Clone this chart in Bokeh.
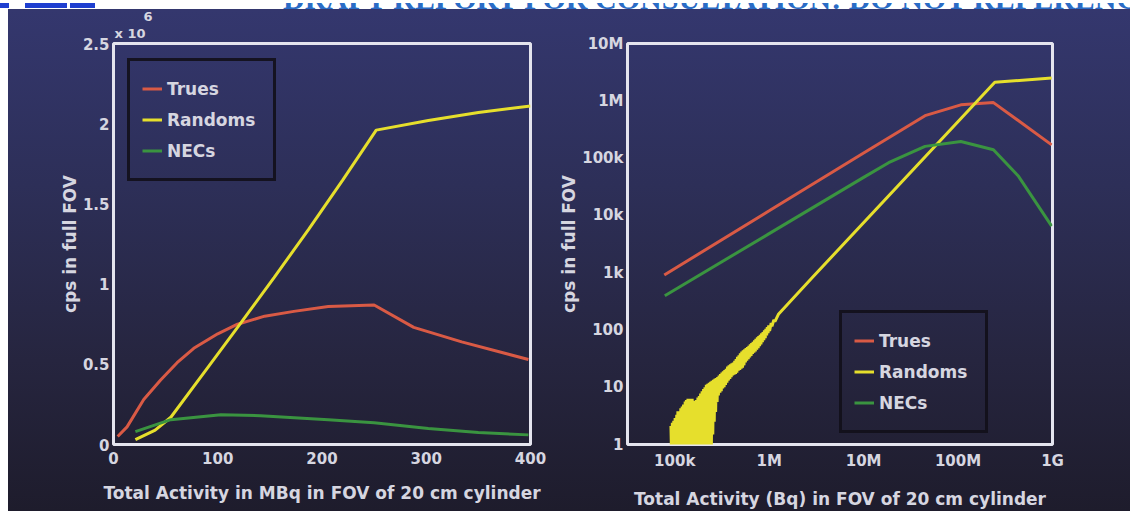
from bokeh.plotting import figure
from bokeh.models import Range1d, FixedTicker, Title, Div
from bokeh.layouts import row, column
from bokeh.embed import file_html
from bokeh.resources import INLINE

# ---------------- data ----------------
series_names = ["Trues", "Randoms", "NECs"]
header_text = "DRAFT REPORT FOR CONSULTATION: DO NOT REFERENCE"

# Left panel: Total activity (MBq) vs count rate (x 10^6 cps)
trues_lin_x = [4, 13, 29, 45, 61, 77, 100, 119, 145, 173, 206, 250, 288, 334, 398]
trues_lin_y = [0.05, 0.11, 0.28, 0.40, 0.51, 0.60, 0.69, 0.75, 0.80, 0.83, 0.86, 0.87, 0.73, 0.64, 0.53]
randoms_lin_x = [21, 40, 55, 87, 119, 154, 187, 220, 252, 302, 350, 400]
randoms_lin_y = [0.03, 0.09, 0.17, 0.45, 0.73, 1.04, 1.34, 1.65, 1.96, 2.02, 2.07, 2.11]
necs_lin_x = [21, 55, 103, 141, 206, 250, 302, 350, 398]
necs_lin_y = [0.08, 0.155, 0.185, 0.18, 0.155, 0.135, 0.10, 0.075, 0.06]

left_x_ticks = [0, 100, 200, 300, 400]
left_y_ticks = [0, 0.5, 1, 1.5, 2, 2.5]
left_y_labels = ["0", "0.5", "1", "1.5", "2", "2.5"]

# Right panel: Total activity (Bq) vs count rate (cps), log-log
trues_log_x = [7.75e4, 1e6, 1e7, 4.47e7, 1.07e8, 2.37e8, 9.8e8]
trues_log_y = [910, 1.2e4, 1.23e5, 5.5e5, 8.5e5, 9.3e5, 1.7e5]
necs_log_x = [7.85e4, 1e6, 1e7, 1.84e7, 4.47e7, 1.07e8, 2.37e8, 4.37e8, 9.8e8]
necs_log_y = [395, 4.8e3, 4.6e4, 8.3e4, 1.6e5, 1.95e5, 1.4e5, 4.8e4, 6.5e3]
# Randoms: noisy (low count) part read as alternating upper / lower edge, then smooth part
randoms_log_x = [
    91200, 92900, 94400, 96200, 97700, 99500, 101000, 103000, 105000, 107000,
    108000, 110000, 112000, 114000, 116000, 118000, 120000, 122000, 124000, 127000,
    129000, 131000, 133000, 136000, 138000, 141000, 143000, 146000, 148000, 151000,
    153000, 156000, 158000, 161000, 164000, 167000, 170000, 173000, 176000, 179000,
    182000, 185000, 188000, 192000, 195000, 199000, 202000, 206000, 209000, 213000,
    216000, 220000, 224000, 228000, 232000, 236000, 240000, 244000, 248000, 253000,
    257000, 262000, 266000, 271000, 275000, 281000, 285000, 290000, 295000, 301000,
    305000, 311000, 316000, 322000, 327000, 333000, 339000, 345000, 351000, 357000,
    363000, 370000, 376000, 383000, 389000, 396000, 403000, 410000, 417000, 425000,
    432000, 440000, 447000, 455000, 462000, 471000, 479000, 488000, 495000, 505000,
    513000, 522000, 531000, 541000, 550000, 560000, 569000, 579000, 589000, 600000,
    610000, 621000, 631000, 643000, 653000, 665000, 676000, 689000, 700000, 713000,
    724000, 738000, 750000, 764000, 776000, 791000, 804000, 818000, 832000, 847000,
    861000, 877000, 891000, 908000, 923000, 940000, 955000, 973000, 989000, 1010000,
    1050000, 1070000, 1120000, 1150000, 1260000,
    2.88e6, 2.45e8, 9.8e8]
randoms_log_y = [
    2.1, 0.5, 2.4, 0.5, 2.6, 0.5, 2.9, 0.5, 3.3, 0.5,
    3.8, 0.5, 3.6, 0.5, 4.3, 0.5, 4.6, 0.5, 5.0, 0.5,
    5.6, 0.5, 6.0, 0.5, 6.3, 0.5, 6.3, 0.5, 6.1, 0.5,
    6.3, 0.5, 5.8, 0.5, 5.5, 0.5, 6.0, 0.5, 6.6, 0.5,
    7.0, 0.5, 7.8, 0.5, 8.5, 0.5, 9.3, 0.5, 10, 0.5,
    11, 0.5, 11.5, 0.5, 12, 0.5, 12.5, 0.7, 13, 1.5,
    13.5, 2.5, 14, 3.7, 14.5, 5.5, 15, 7.2, 16, 8,
    17, 8.5, 18, 9.5, 19, 10, 20, 11, 21, 12,
    23, 13, 24, 14, 25, 15, 26, 16, 27, 16.5,
    29, 17, 31, 18, 34, 19.5, 36, 20, 39, 21,
    42, 22, 44, 24, 46, 27, 48, 29, 50, 31,
    53, 33, 56, 35, 59, 38, 62, 40, 66, 42,
    70, 45, 74, 48, 78, 52, 82, 56, 87, 61,
    92, 66, 98, 72, 104, 80, 112, 88, 120, 96,
    132, 115, 150, 140, 190,
    830, 2.1e6, 2.5e6]

right_x_ticks = [1e5, 1e6, 1e7, 1e8, 1e9]
right_x_labels = ["100k", "1M", "10M", "100M", "1G"]
right_y_ticks = [1, 10, 100, 1e3, 1e4, 1e5, 1e6, 1e7]
right_y_labels = ["1", "10", "100", "1k", "10k", "100k", "1M", "10M"]

colors = {"Trues": "#d95a45", "Randoms": "#e6df2c", "NECs": "#3a9440"}

# ---------------- styling helpers ----------------
FONT = "DejaVu Sans"
TXT = "#d6d6e0"
BG = "linear-gradient(180deg, #34376e 0%, #2d2f58 35%, #26253f 70%, #1e1c2c 100%)"


def style(p):
    p.background_fill_alpha = 0
    p.border_fill_alpha = 0
    p.outline_line_color = "#e4e4ee"
    p.outline_line_width = 3
    p.grid.visible = False
    p.styles = {"background": BG}
    for ax in p.axis:
        ax.axis_line_color = None
        ax.major_tick_line_color = None
        ax.minor_tick_line_color = None
        ax.major_tick_out = 0
        ax.major_tick_in = 0
        ax.minor_tick_out = 0
        ax.minor_tick_in = 0
        ax.major_label_text_font = FONT
        ax.major_label_text_font_style = "bold"
        ax.major_label_text_font_size = "15px"
        ax.major_label_text_color = TXT
        ax.axis_label_text_font = FONT
        ax.axis_label_text_font_style = "bold"
        ax.axis_label_text_font_size = "17px"
        ax.axis_label_text_color = TXT
    p.xaxis.major_label_standoff = 7
    p.xaxis.axis_label_standoff = 16
    p.yaxis.major_label_standoff = 4
    p.yaxis.axis_label_standoff = 0


def style_legend(p, location):
    lg = p.legend[0]
    lg.location = location
    lg.background_fill_alpha = 0
    lg.border_line_color = "#121019"
    lg.border_line_width = 3
    lg.border_line_alpha = 0.9
    lg.label_text_font = FONT
    lg.label_text_font_style = "bold"
    lg.label_text_font_size = "17px"
    lg.label_text_color = TXT
    lg.glyph_width = 20
    lg.glyph_height = 31
    lg.label_height = 31
    lg.label_width = 94
    lg.label_standoff = 5
    lg.spacing = 0
    lg.padding = 12
    lg.margin = 0


# ---------------- left panel ----------------
p1 = figure(width=548, height=502, output_backend="svg", toolbar_location=None,
            x_range=Range1d(0, 400), y_range=Range1d(0, 2.5),
            min_border_left=105, min_border_right=26, min_border_top=34, min_border_bottom=66)
p1.line(trues_lin_x, trues_lin_y, color=colors["Trues"], line_width=3, legend_label=series_names[0])
p1.line(randoms_lin_x, randoms_lin_y, color=colors["Randoms"], line_width=3, legend_label=series_names[1])
p1.line(necs_lin_x, necs_lin_y, color=colors["NECs"], line_width=3, legend_label=series_names[2])
p1.xaxis.ticker = FixedTicker(ticks=left_x_ticks)
p1.yaxis.ticker = FixedTicker(ticks=left_y_ticks)
p1.yaxis.major_label_overrides = dict(zip(left_y_ticks, left_y_labels))
p1.xaxis.axis_label = "Total Activity in MBq in FOV of 20 cm cylinder"
p1.yaxis.axis_label = "cps in full FOV"
style(p1)
style_legend(p1, (14, 263))
# scale note "x 10^6": exponent row above, "x 10" row next to the frame
p1.title.text = "6"
p1.title.align = "left"
p1.title.offset = 30
p1.title.standoff = 0
p1.title.text_font = FONT
p1.title.text_font_size = "13px"
p1.title.text_color = TXT
p1.add_layout(Title(text="x 10", align="left", offset=1, standoff=6, text_font=FONT,
                    text_font_size="13px", text_color=TXT), "above")

# ---------------- right panel ----------------
p2 = figure(width=574, height=502, output_backend="svg", toolbar_location=None,
            x_axis_type="log", y_axis_type="log",
            x_range=Range1d(31623, 1e9), y_range=Range1d(1, 1e7),
            min_border_left=68, min_border_right=78, min_border_top=34, min_border_bottom=66)
p2.line(trues_log_x, trues_log_y, color=colors["Trues"], line_width=3, legend_label=series_names[0])
p2.line(randoms_log_x, randoms_log_y, color=colors["Randoms"], line_width=3, legend_label=series_names[1])
p2.line(necs_log_x, necs_log_y, color=colors["NECs"], line_width=3, legend_label=series_names[2])
p2.xaxis.ticker = FixedTicker(ticks=right_x_ticks)
p2.yaxis.ticker = FixedTicker(ticks=right_y_ticks)
p2.xaxis.major_label_overrides = dict(zip(right_x_ticks, right_x_labels))
p2.yaxis.major_label_overrides = dict(zip(right_y_ticks, right_y_labels))
p2.xaxis.axis_label = "Total Activity (Bq) in FOV of 20 cm cylinder"
p2.yaxis.axis_label = "cps in full FOV"
style(p2)
style_legend(p2, (212, 11))

# ---------------- document header strip (cut off at the top, as in the source) ----------------
header_html = (
    '<div style="position:relative;width:1130px;height:9px;overflow:hidden;background:#ffffff">'
    '<div style="position:absolute;left:0px;top:0px;width:9px;height:5px;background:#1f3fd0"></div>'
    '<div style="position:absolute;left:25px;top:0px;width:42px;height:5px;background:#1f3fd0"></div>'
    '<div style="position:absolute;left:70px;top:0px;width:25px;height:5px;background:#1f3fd0"></div>'
    '<div style="position:absolute;left:283px;top:-21px;white-space:nowrap;line-height:34px;'
    "font-family:'Liberation Serif';font-weight:bold;font-size:30px;color:#2a6cc6\">"
    + header_text + '</div></div>'
)
header = Div(text=header_html, width=1130, height=9, margin=0)

layout = column(header, row(p1, p2, margin=(0, 0, 0, 8)), margin=0)
open("out.html", "w").write(file_html(layout, INLINE))
